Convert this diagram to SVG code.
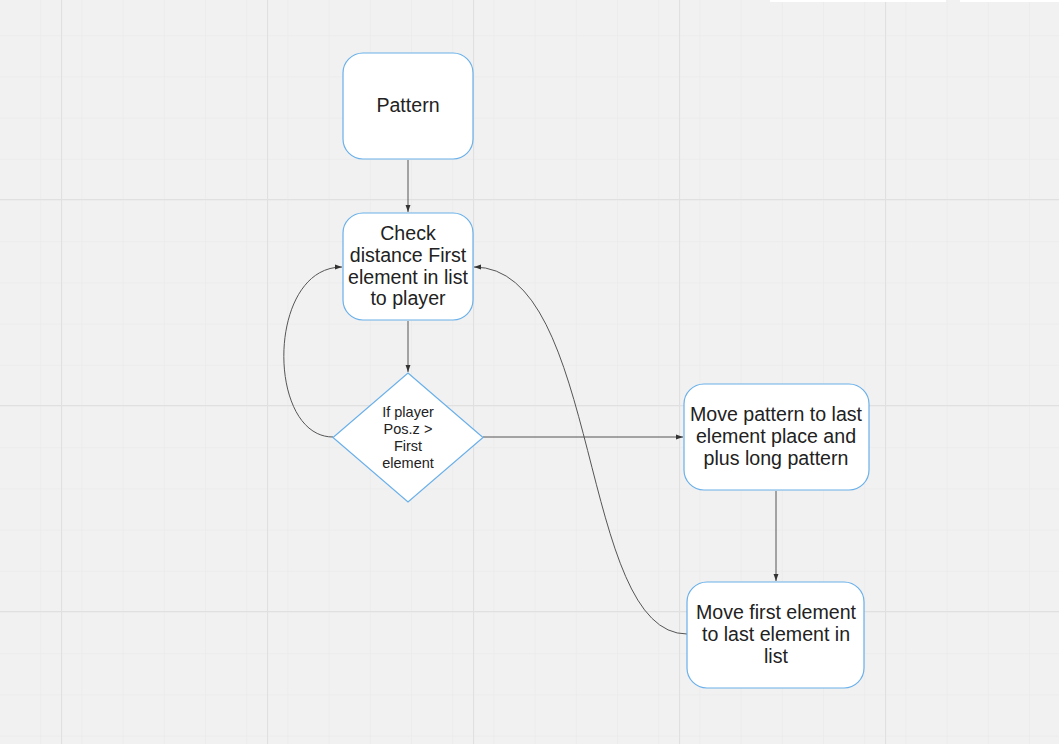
<svg xmlns="http://www.w3.org/2000/svg" width="1059" height="744" viewBox="0 0 1059 744">
<defs>
<pattern id="minor" x="-1" y="-6" width="41.2" height="41.2" patternUnits="userSpaceOnUse">
<path d="M0,0 V41.2 M0,0 H41.2" fill="none" stroke="#e8e8e8" stroke-width="1"/>
</pattern>
<pattern id="major" x="61" y="-7" width="206" height="206" patternUnits="userSpaceOnUse">
<path d="M0.5,0 V206 M0,0.5 H206" fill="none" stroke="#e0e0e0" stroke-width="1.2"/>
</pattern>
<marker id="arr" viewBox="0 0 10 10" refX="10" refY="5" markerWidth="7" markerHeight="7" orient="auto" markerUnits="userSpaceOnUse">
<path d="M0,1.5 L10,5 L0,8.5 Z" fill="#333"/>
</marker>
</defs>
<style>
.box{fill:#ffffff;stroke:#6ab0ea;stroke-width:1.2}
.t{font-family:"Liberation Sans",Arial,sans-serif;font-size:19.6px;fill:#222;text-anchor:middle}
.s{font-family:"Liberation Sans",Arial,sans-serif;font-size:14.5px;fill:#222;text-anchor:middle}
.c{fill:none;stroke:#555;stroke-width:1}
</style>
<rect width="1059" height="744" fill="#f1f1f1"/>
<rect width="1059" height="744" fill="url(#minor)"/>
<rect width="1059" height="744" fill="url(#major)"/>
<rect x="770" y="0" width="176" height="2" fill="#ffffff"/>
<rect x="960" y="0" width="99" height="2" fill="#ffffff"/>
<g id="connectors">
<path class="c" d="M408,160 V212" marker-end="url(#arr)"/>
<path class="c" d="M408,321 V372" marker-end="url(#arr)"/>
<path class="c" d="M333,437 C266,437 266,267 342,267" marker-end="url(#arr)"/>
<path class="c" d="M483,437 H683" marker-end="url(#arr)"/>
<path class="c" d="M776,491 V581" marker-end="url(#arr)"/>
<path class="c" d="M687,634 C578,634 602,267 474,267" marker-end="url(#arr)"/>
</g>
<g id="pattern">
<rect class="box" x="343" y="53" width="130" height="106" rx="20"/>
<text class="t" x="408" y="112">Pattern</text>
</g>
<g id="check">
<rect class="box" x="343" y="213" width="130" height="107" rx="20"/>
<text class="t" x="408" y="240">Check</text>
<text class="t" x="408" y="262">distance First</text>
<text class="t" x="408" y="284">element in list</text>
<text class="t" x="408" y="305">to player</text>
</g>
<g id="decision">
<polygon class="box" points="408,373 483,437.5 408,502 333,437.5"/>
<text class="s" x="408" y="417">If player</text>
<text class="s" x="408" y="434">Pos.z &gt;</text>
<text class="s" x="408" y="451">First</text>
<text class="s" x="408" y="468">element</text>
</g>
<g id="movepattern">
<rect class="box" x="684" y="384" width="185" height="106" rx="20"/>
<text class="t" x="776" y="421">Move pattern to last</text>
<text class="t" x="776" y="443">element place and</text>
<text class="t" x="776" y="465">plus long pattern</text>
</g>
<g id="movefirst">
<rect class="box" x="687" y="582" width="177" height="106" rx="20"/>
<text class="t" x="776" y="619">Move first element</text>
<text class="t" x="776" y="641">to last element in</text>
<text class="t" x="776" y="663">list</text>
</g>
</svg>
